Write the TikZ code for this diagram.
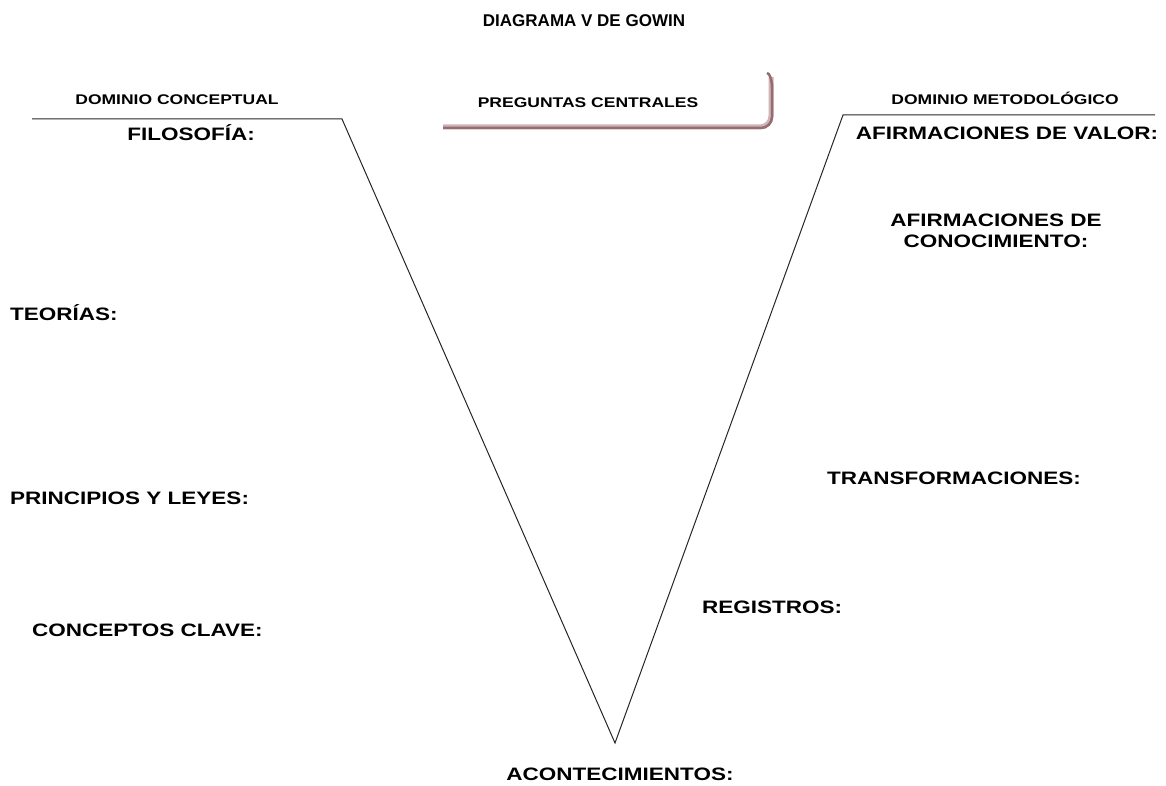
\documentclass[tikz,border=0pt]{standalone}
\usepackage{fontspec}
\setmainfont{Liberation Sans}
\newfontfamily\widefont[FakeStretch=1.25]{Liberation Sans}
\usepackage{tikz}
\usetikzlibrary{calc}
\usetikzlibrary{positioning}
\definecolor{shadowrose}{RGB}{150,108,112}
\definecolor{shadowlight}{RGB}{205,180,182}
\tikzset{
  biglab/.style={inner sep=0pt,font=\widefont\bfseries\fontsize{18}{21}\selectfont},
  smalllab/.style={inner sep=0pt,font=\widefont\bfseries\fontsize{14}{16}\selectfont},
}

\begin{document}
\begin{tikzpicture}[x=1pt,y=-1pt]
    \useasboundingbox (0,0) rectangle (1166,786);
    \path (32,119) coordinate (A) (342,119) coordinate (B) (615,743) coordinate (C)
    (843,115) coordinate (D) (1155,115) coordinate (E);
    \draw[black!85,line width=1pt] (A)--(B)--(C)--(D)--(E);

    % preguntas centrales
    \path (443,128) coordinate (P) (772,73) coordinate (Q);
    \draw[shadowlight,line width=5pt,rounded corners=11pt] ($(P)+(0,-1)$) -| ($(Q)+(-1,4)$);
    \draw[shadowrose,line width=2.5pt,rounded corners=11pt] (P) -| ($(Q)+(0,4)$) to[out=-90,in=0] ++(-5,-4);

    \node[inner sep=0pt,font=\bfseries\fontsize{17}{20}\selectfont] (titulo) at (584,21) {DIAGRAMA V DE GOWIN};
    \node[smalllab] (dconcep) at (177,100) {DOMINIO CONCEPTUAL};
    \node[smalllab] (dmetod) at (1005,98) {DOMINIO METODOLÓGICO};
    \node[smalllab] (pregun) at (588,103) {PREGUNTAS CENTRALES};

    \node[biglab] (filos) at (191,133) {FILOSOFÍA:};
    \node[biglab,anchor=west] (teor) at (10,313) {TEORÍAS:};
    \node[biglab,anchor=west] (princ) at (10,498) {PRINCIPIOS Y LEYES:};
    \node[biglab,anchor=west] (concep) at (32,630) {CONCEPTOS CLAVE:};

    \node[biglab] (valor) at (1007,133) {AFIRMACIONES DE VALOR:};
    \node[biglab,align=center] (conoc) at (996,231) {AFIRMACIONES DE\\CONOCIMIENTO:};
    \node[biglab,anchor=west] (transf) at (827,478) {TRANSFORMACIONES:};
    \node[biglab,anchor=west] (regis) at (702,607) {REGISTROS:};
    \node[biglab] (aconte) at (620,774) {ACONTECIMIENTOS:};
\end{tikzpicture}
\end{document}
